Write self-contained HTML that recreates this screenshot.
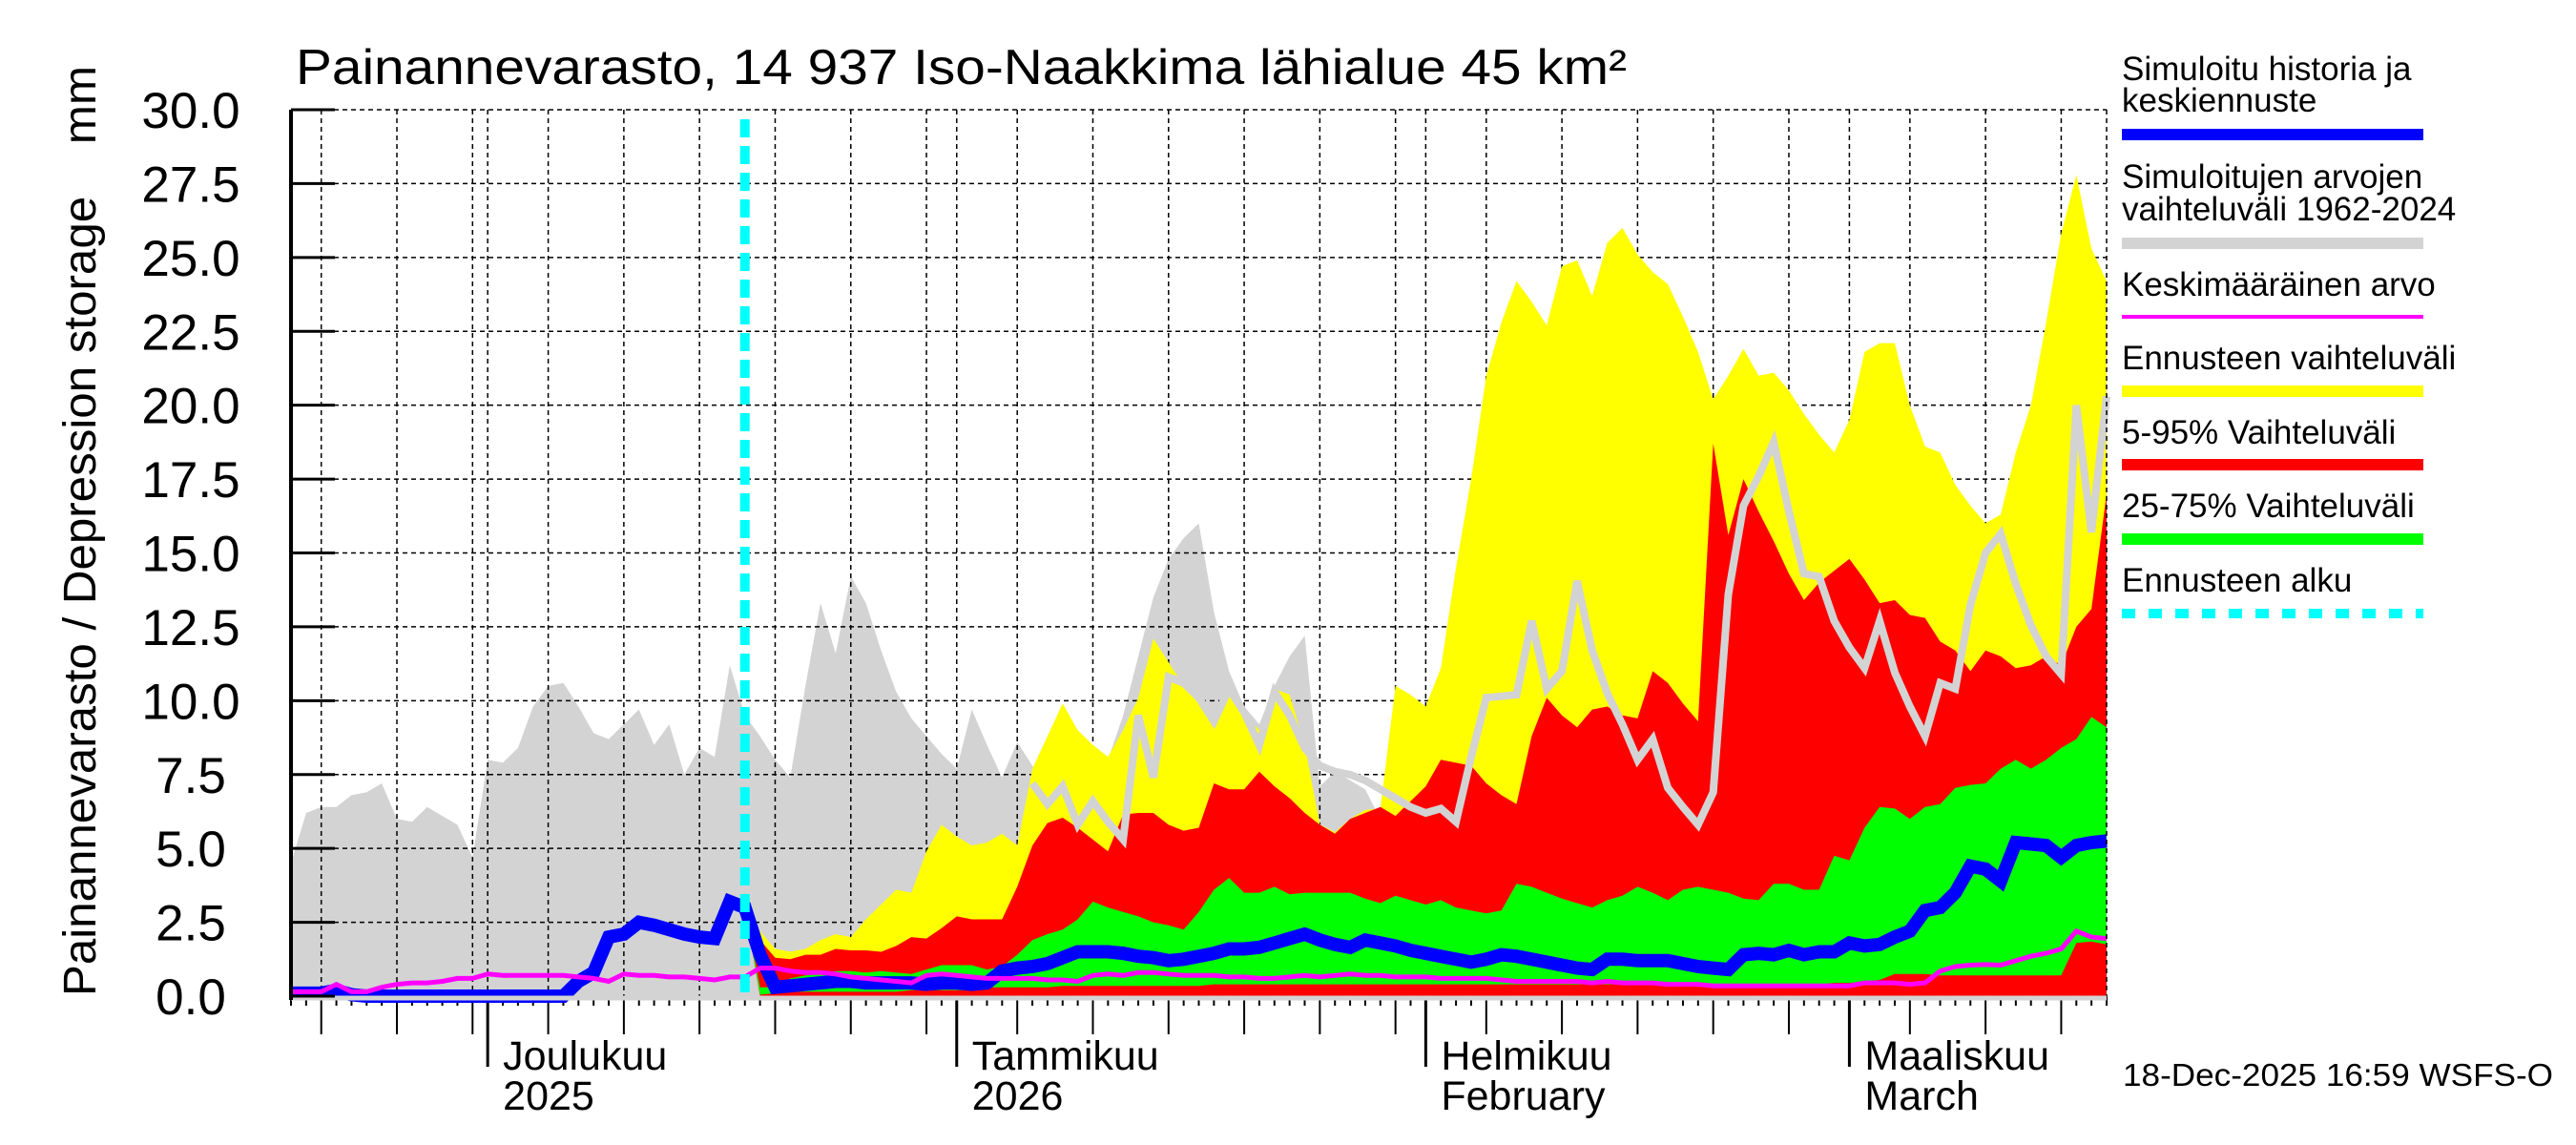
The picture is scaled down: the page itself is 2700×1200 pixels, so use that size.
<!DOCTYPE html>
<html><head><meta charset="utf-8">
<style>
html,body{margin:0;padding:0;background:#fff;}
svg{display:block;font-family:"Liberation Sans",sans-serif;}
</style></head>
<body>
<svg id="chart" width="2700" height="1200" viewBox="0 0 2700 1200" xmlns="http://www.w3.org/2000/svg">
<rect x="0" y="0" width="2700" height="1200" fill="#fff"/>
<text x="310" y="88" font-size="52" textLength="1395" lengthAdjust="spacingAndGlyphs">Painannevarasto, 14 937 Iso-Naakkima lähialue 45 km²</text>
<text transform="translate(100,1044) rotate(-90)" font-size="48" textLength="975" lengthAdjust="spacingAndGlyphs" xml:space="preserve">Painannevarasto / Depression storage    mm</text>
<g id="plot"></g>
<g id="legend">
<text x="2224" y="84" font-size="35">Simuloitu historia ja</text>
<text x="2224" y="117" font-size="35">keskiennuste</text>
<line x1="2224" x2="2540" y1="141" y2="141" stroke="#0000ff" stroke-width="12"/>
<text x="2224" y="197" font-size="35">Simuloitujen arvojen</text>
<text x="2224" y="231" font-size="35">vaihteluväli 1962-2024</text>
<line x1="2224" x2="2540" y1="255" y2="255" stroke="#d3d3d3" stroke-width="12"/>
<text x="2224" y="310" font-size="35">Keskimääräinen arvo</text>
<line x1="2224" x2="2540" y1="332" y2="332" stroke="#ff00ff" stroke-width="4"/>
<text x="2224" y="387" font-size="35">Ennusteen vaihteluväli</text>
<line x1="2224" x2="2540" y1="410" y2="410" stroke="#ffff00" stroke-width="12"/>
<text x="2224" y="465" font-size="35">5-95% Vaihteluväli</text>
<line x1="2224" x2="2540" y1="487" y2="487" stroke="#ff0000" stroke-width="12"/>
<text x="2224" y="542" font-size="35">25-75% Vaihteluväli</text>
<line x1="2224" x2="2540" y1="565" y2="565" stroke="#00ff00" stroke-width="12"/>
<text x="2224" y="620" font-size="35">Ennusteen alku</text>
<line x1="2224" x2="2540" y1="643" y2="643" stroke="#00ffff" stroke-width="10" stroke-dasharray="14,14"/>
</g>
<text x="2225" y="1138" font-size="33" textLength="451" lengthAdjust="spacingAndGlyphs">18-Dec-2025 16:59 WSFS-O</text>
</svg>
<script>
// Day 0 = 18 Nov 2025, daily values to day 120 (18 Mar 2026)
const yTicks = ["0.0","2.5","5.0","7.5","10.0","12.5","15.0","17.5","20.0","22.5","25.0","27.5","30.0"];
const monthLabels1 = ["Joulukuu","Tammikuu","Helmikuu","Maaliskuu"];
const monthLabels2 = ["2025","2026","February","March"];
const forecastStartDay = 30;
const histMax = [4.5,6.2,6.4,6.4,6.8,6.9,7.2,6.0,5.9,6.4,6.1,5.8,4.7,8.0,7.9,8.4,9.8,10.5,10.6,9.8,8.9,8.7,9.2,9.7,8.5,9.2,7.5,8.4,8.1,11.2,9.5,8.8,8.0,7.4,10.5,13.3,11.6,14.2,13.3,11.7,10.3,9.4,8.8,8.2,7.7,9.7,8.5,7.4,8.6,7.8,7.0,7.0,7.2,7.2,8.0,9.5,11.5,13.5,14.8,15.5,16.0,13.0,11.0,9.8,9.2,10.5,11.5,12.2,7.1,7.6,7.3,7.0,6.0,5.5,5.5,5.5,5.5,5.5,5.5,5.5,5.5,5.5,5.5,5.5,5.5,5.5,5.5,5.5,5.5,5.5,5.5,5.5,5.5,5.5,5.5,5.5,5.5,5.5,5.5,5.5,5.5,5.5,5.5,5.5,5.5,5.5,5.5,5.5,5.5,5.5,5.5,5.5,5.5,5.5,5.5,5.5,5.5,5.5,5.5,5.5,5.5];
const median = [0.1,0.1,0.1,0.2,0.05,0,0,0,0,0,0,0,0,0,0,0,0,0,0,0.5,0.8,2.0,2.1,2.5,2.4,2.25,2.1,2.0,1.95,3.2,3.0,1.4,0.3,0.35,0.4,0.45,0.5,0.5,0.45,0.45,0.45,0.45,0.4,0.45,0.45,0.4,0.45,0.85,0.95,1.0,1.1,1.3,1.5,1.5,1.5,1.45,1.35,1.3,1.2,1.25,1.35,1.45,1.6,1.6,1.65,1.8,1.95,2.1,1.9,1.75,1.65,1.9,1.8,1.7,1.55,1.45,1.35,1.25,1.15,1.25,1.4,1.35,1.25,1.15,1.05,0.95,0.9,1.25,1.25,1.2,1.2,1.2,1.1,1.0,0.95,0.9,1.4,1.45,1.4,1.55,1.4,1.5,1.5,1.8,1.7,1.75,2.0,2.2,2.9,3.0,3.5,4.4,4.3,3.9,5.2,5.15,5.1,4.7,5.1,5.2,5.25];
const meanValue = [0.15,0.15,0.15,0.4,0.15,0.15,0.3,0.4,0.45,0.45,0.5,0.6,0.6,0.75,0.7,0.7,0.7,0.7,0.7,0.65,0.6,0.5,0.75,0.7,0.7,0.65,0.65,0.6,0.55,0.65,0.65,0.95,0.95,0.85,0.8,0.8,0.75,0.65,0.6,0.55,0.5,0.45,0.7,0.75,0.7,0.65,0.6,0.6,0.6,0.6,0.55,0.55,0.5,0.7,0.75,0.7,0.8,0.8,0.75,0.7,0.7,0.7,0.65,0.65,0.6,0.6,0.65,0.7,0.65,0.7,0.75,0.7,0.7,0.65,0.65,0.65,0.6,0.6,0.6,0.6,0.55,0.5,0.5,0.5,0.5,0.5,0.45,0.5,0.45,0.45,0.45,0.4,0.4,0.4,0.35,0.35,0.35,0.35,0.35,0.35,0.35,0.35,0.35,0.35,0.45,0.45,0.45,0.4,0.45,0.85,1.0,1.05,1.07,1.05,1.2,1.35,1.45,1.6,2.2,2.0,1.95];
// forecast arrays start at forecastStartDay
const fcMax = [3.0,2.2,1.6,1.5,1.6,1.9,2.1,2.0,2.6,3.1,3.6,3.5,4.9,5.8,5.4,5.1,5.2,5.5,5.1,7.7,8.8,9.9,9.0,8.5,8.1,9.0,10.1,12.1,11.3,10.5,10.0,9.4,10.4,9.5,9.0,10.4,10.2,8.5,5.8,5.55,6.0,6.3,6.35,10.5,10.2,9.8,11.1,14.5,17.5,21.0,22.8,24.2,23.5,22.7,24.7,24.9,23.7,25.5,26.0,25.1,24.5,24.1,23.0,21.8,20.2,21.0,21.9,21.0,21.1,20.5,19.7,19.0,18.4,19.5,21.8,22.1,22.1,20.0,18.6,18.4,17.3,16.6,16.0,16.3,18.4,20.0,22.8,25.8,27.8,25.3,24.2];
const fcP95 = [3.0,1.9,1.3,1.25,1.4,1.4,1.6,1.55,1.55,1.5,1.7,2.0,1.95,2.3,2.7,2.6,2.6,2.6,3.7,5.1,5.86,6.04,5.7,5.3,4.9,6.15,6.2,6.2,5.8,5.6,5.7,7.2,7.0,7.0,7.6,7.1,6.7,6.2,5.8,5.5,6.0,6.2,6.4,6.1,6.6,7.1,8.0,7.9,7.8,7.2,6.8,6.5,8.8,10.1,9.5,9.1,9.7,9.8,9.5,9.4,11.0,10.6,9.9,9.3,18.7,15.6,17.5,16.4,15.4,14.3,13.4,14.0,14.4,14.8,14.1,13.3,13.4,12.9,12.8,12.0,11.7,11.0,11.7,11.5,11.1,11.2,11.5,11.2,12.5,13.1,17.0];
const fcP75 = [3.0,0.3,0.3,0.6,0.7,0.75,0.85,0.85,0.8,0.85,0.8,0.75,0.9,1.05,1.05,1.05,0.9,1.0,1.4,1.9,2.1,2.25,2.6,3.2,3.0,2.85,2.7,2.5,2.4,2.25,2.85,3.6,4.0,3.5,3.5,3.7,3.45,3.5,3.5,3.5,3.5,3.3,3.15,3.4,3.25,3.1,3.25,3.0,2.9,2.8,2.9,3.8,3.7,3.5,3.3,3.15,3.0,3.25,3.4,3.7,3.5,3.25,3.6,3.7,3.6,3.5,3.3,3.25,3.8,3.8,3.6,3.6,4.75,4.6,5.7,6.4,6.35,6.0,6.4,6.5,7.05,7.15,7.2,7.7,8.0,7.7,8.0,8.4,8.7,9.45,9.1];
const fcP25 = [3.0,0.05,0.1,0.15,0.15,0.15,0.15,0.15,0.15,0.15,0.15,0.2,0.2,0.2,0.2,0.2,0.3,0.3,0.3,0.3,0.3,0.35,0.35,0.35,0.35,0.35,0.35,0.35,0.35,0.35,0.35,0.4,0.4,0.4,0.4,0.4,0.4,0.4,0.4,0.4,0.4,0.4,0.4,0.4,0.4,0.4,0.4,0.4,0.4,0.4,0.4,0.4,0.4,0.4,0.4,0.4,0.4,0.4,0.4,0.4,0.4,0.4,0.4,0.4,0.3,0.3,0.3,0.3,0.3,0.3,0.3,0.4,0.45,0.45,0.5,0.55,0.75,0.75,0.75,0.7,0.7,0.7,0.7,0.7,0.7,0.7,0.7,0.7,1.8,1.85,1.75];
const fcP5 = [3.0,0,0,0,0,0,0,0,0,0,0,0,0,0,0,0,0,0,0,0,0,0,0,0,0,0,0,0,0,0,0,0,0,0,0,0,0,0,0,0,0,0,0,0,0,0,0,0,0,0,0,0,0,0,0,0,0,0,0,0,0,0,0,0,0,0,0,0,0,0,0,0,0,0,0,0,0,0,0,0,0,0,0,0,0,0,0,0,0,0,0];
const fcMin = [3.0,0,0,0,0,0,0,0,0,0,0,0,0,0,0,0,0,0,0,0,0,0,0,0,0,0,0,0,0,0,0,0,0,0,0,0,0,0,0,0,0,0,0,0,0,0,0,0,0,0,0,0,0,0,0,0,0,0,0,0,0,0,0,0,0,0,0,0,0,0,0,0,0,0,0,0,0,0,0,0,0,0,0,0,0,0,0,0,0,0,0];
const grayYearStart = 49;
const grayYear = [7.2,6.5,7.1,5.8,6.6,5.9,5.3,9.5,7.4,10.8,10.6,10.1,9.3,10.4,9.6,8.5,10.3,9.5,8.4,7.8,7.6,7.5,7.3,7.0,6.7,6.4,6.2,6.35,5.9,8.1,10.1,10.15,10.2,12.7,10.4,11.0,14.05,11.7,10.25,9.2,8.0,8.7,7.05,6.4,5.8,6.9,13.6,16.6,17.6,18.75,16.4,14.3,14.2,12.7,11.8,11.1,12.7,10.95,9.8,8.8,10.6,10.4,13.25,15.0,15.65,13.95,12.55,11.5,10.9,20.0,15.7,20.3];

const NS = "http://www.w3.org/2000/svg";
const X0 = 305, X1 = 2208, Y0 = 1044, Y1 = 115, NDAYS = 120, YMAX = 30;
function xs(d){ return X0 + d * (X1 - X0) / NDAYS; }
function ys(v){ return Y0 - v * (Y0 - Y1) / YMAX; }
const plot = document.getElementById('plot');
function mk(tag, attrs){ const e = document.createElementNS(NS, tag); for (const k in attrs) e.setAttribute(k, attrs[k]); plot.appendChild(e); return e; }

function bandPath(lo, hi, off){
  let p = '';
  for (let i = 0; i < hi.length; i++) p += (i ? 'L' : 'M') + xs(off + i).toFixed(1) + ',' + ys(hi[i]).toFixed(1);
  for (let i = lo.length - 1; i >= 0; i--) p += 'L' + xs(off + i).toFixed(1) + ',' + ys(lo[i]).toFixed(1);
  return p + 'Z';
}
function linePath(vals, off){
  let p = '';
  for (let i = 0; i < vals.length; i++) p += (i ? 'L' : 'M') + xs(off + i).toFixed(1) + ',' + ys(vals[i]).toFixed(1);
  return p;
}
const zeros = histMax.map(() => 0);

// history range area
let el = mk('path', {d: bandPath(zeros, histMax, 0), fill: '#d3d3d3'});



// grid
for (let i = 1; i < yTicks.length; i++) {
  el = mk('line', {x1: X0, x2: X1, y1: ys(i * 2.5), y2: ys(i * 2.5), stroke: '#000', 'stroke-width': 1.5, 'stroke-dasharray': '5,4'});
  
  
}
const startDate = Date.UTC(2025, 10, 18);
const monthStarts = [];
for (let d = 0; d <= NDAYS; d++) {
  const dt = new Date(startDate + d * 86400000);
  const dom = dt.getUTCDate();
  const isGrid = dom === 1 || (dom % 5 === 0 && dom <= 30);
  if (dom === 1) monthStarts.push(d);
  if (isGrid && d > 0) {
    el = mk('line', {x1: xs(d), x2: xs(d), y1: Y1, y2: Y0, stroke: '#000', 'stroke-width': 1.5, 'stroke-dasharray': '5,4'});
    
    
  }
  const len = dom === 1 ? 74 : (isGrid ? 40 : 10);
  el = mk('line', {x1: xs(d), x2: xs(d), y1: Y0, y2: Y0 + len, stroke: '#000', 'stroke-width': dom === 1 ? 3 : 2});
  
  
}

// forecast bands
el = mk('path', {d: bandPath(fcMin, fcMax, forecastStartDay), fill: '#ffff00'});


el = mk('path', {d: bandPath(fcP5, fcP95, forecastStartDay), fill: '#ff0000'});


el = mk('path', {d: bandPath(fcP25, fcP75, forecastStartDay), fill: '#00ff00'});



// gray single-year line
el = mk('path', {d: linePath(grayYear, grayYearStart), fill: 'none', stroke: '#d3d3d3', 'stroke-width': 8, 'stroke-linejoin': 'miter'});



// median line
el = mk('path', {d: linePath(median, 0), fill: 'none', stroke: '#0000ff', 'stroke-width': 14, 'stroke-linejoin': 'miter'});



// mean line
el = mk('path', {d: linePath(meanValue, 0), fill: 'none', stroke: '#ff00ff', 'stroke-width': 5});



// forecast start
el = mk('line', {x1: xs(forecastStartDay), x2: xs(forecastStartDay), y1: Y1 + 10, y2: Y0, stroke: '#00ffff', 'stroke-width': 10, 'stroke-dasharray': '19,9'});



// right border, axes
el = mk('line', {x1: X1, x2: X1, y1: Y1, y2: Y0, stroke: '#000', 'stroke-width': 1.5, 'stroke-dasharray': '5,4'});


el = mk('line', {x1: X0, x2: X1, y1: Y0 + 2, y2: Y0 + 2, stroke: '#d3d3d3', 'stroke-width': 5});


el = mk('line', {x1: X0, x2: X0, y1: Y1, y2: Y0 + 4, stroke: '#000', 'stroke-width': 4});



// y ticks + labels
for (let i = 0; i < yTicks.length; i++) {
  const y = ys(i * 2.5);
  el = mk('line', {x1: X0, x2: X0 + 46, y1: y, y2: y, stroke: '#000', 'stroke-width': 3});
  
  
  el = mk('text', {x: 200, y: y + 19, 'font-size': 53, 'text-anchor': 'middle'});
  el.textContent = yTicks[i];
  
  
}

// month labels
for (let i = 0; i < monthStarts.length && i < monthLabels1.length; i++) {
  const x = xs(monthStarts[i]) + 16;
  el = mk('text', {x: x, y: 1121, 'font-size': 43});
  el.textContent = monthLabels1[i];
  
  
  el = mk('text', {x: x, y: 1163, 'font-size': 43});
  el.textContent = monthLabels2[i];
  
  
}
</script>
</body></html>
